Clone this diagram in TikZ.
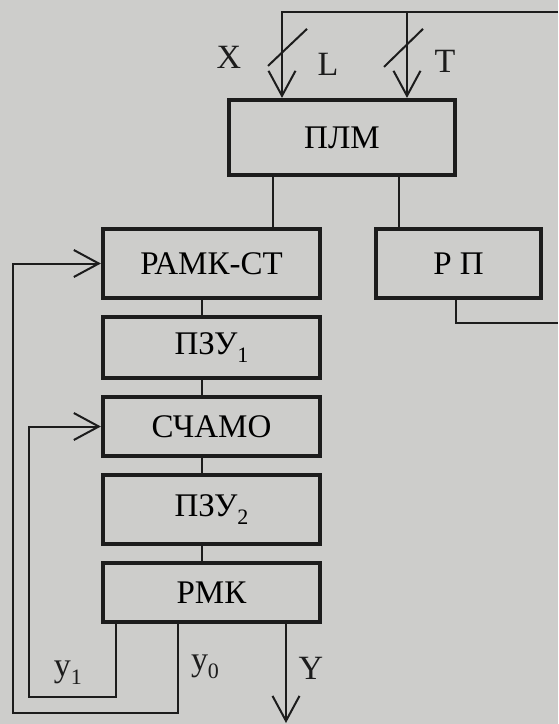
\documentclass[tikz,border=0pt]{standalone}
\usepackage{fontspec}
\setmainfont{Liberation Serif}
\usetikzlibrary{arrows.meta,positioning,calc}
\definecolor{Paper}{RGB}{205,205,203}
\definecolor{Ink}{RGB}{28,28,28}
\newcommand{\lowsub}[1]{\lower0.5ex\hbox{\fontsize{11}{12}\selectfont #1}}
\tikzset{
  blk/.style={rectangle,draw=Ink,line width=1.9pt,fill=Paper,
              font=\fontsize{16.5}{19}\selectfont,minimum width=108.7pt,inner sep=0pt},
  wire/.style={draw=Ink,line width=1pt},
  arr/.style={wire,-{Straight Barb[length=12.5pt,width=13.5pt]}},
  lbl/.style={font=\fontsize{17}{20}\selectfont,text=Ink,inner sep=0pt},
}

\begin{document}
\begin{tikzpicture}[x=0.5pt,y=-0.5pt,node distance=7.4pt]
  \fill[Paper] (0,0) rectangle (558,724);
  \useasboundingbox (0,0) rectangle (558,724);

  % blocks
  \node[blk,minimum width=113.2pt,minimum height=37.7pt] (plm) at (342,137.5) {ПЛМ};
  \node[blk,minimum height=34.7pt] (ramk) at (211.5,263.5) {РАМК-СТ};
  \node[blk,minimum width=82.7pt,minimum height=34.7pt] (rp) at (458.5,263.5) {Р П};
  \node[blk,minimum height=30.7pt,below=of ramk] (pzu1) {ПЗУ\lowsub{1}};
  \node[blk,minimum height=29.7pt,below=of pzu1] (schamo) {СЧАМО};
  \node[blk,minimum height=34.7pt,below=of schamo] (pzu2) {ПЗУ\lowsub{2}};
  \node[blk,minimum height=29.7pt,below=of pzu2] (rmk) {РМК};

  % free ends
  \coordinate (busE) at (558,12);
  \coordinate (rpE) at (558,323);
  \coordinate (loopA) at (13,713);
  \coordinate (loopB) at (29,697);
  \coordinate (yEnd) at (0,723);
  \coordinate (inL) at ($(plm.north)+(-60,0)$);
  \coordinate (inR) at ($(plm.north)+(65,0)$);
  \coordinate (outA) at ($(plm.south)+(-69,0)$);
  \coordinate (outB) at ($(plm.south)+(57,0)$);
  \coordinate (yOut) at ($(rmk.south)+(74.5,0)$);

  % inputs X
  \draw[arr] (busE) -| (inL);
  \draw[arr] (inR |- busE) -- (inR);
  \draw[wire] ($(inL)+(-14,-32)$) -- ($(inL)+(25,-69)$);
  \draw[wire] ($(inR)+(-23,-31)$) -- ($(inR)+(16,-69)$);
  \node[lbl] (xlab) at (229,57) {X};
  \node[lbl] (llab) at (328,64) {L};
  \node[lbl] (tlab) at (445,61) {T};

  % PLM outputs
  \draw[wire] (outA) -- (outA |- ramk.north);
  \draw[wire] (outB) -- (outB |- rp.north);
  \draw[wire] ($(rp.south)+(-3,0)$) |- (rpE);

  % column
  \foreach \a/\b in {ramk/pzu1,pzu1/schamo,schamo/pzu2,pzu2/rmk}
    \draw[wire] ($(\a.south)+(-9.5,0)$) -- ($(\b.north)+(-9.5,0)$);

  % feedback and output
  \draw[arr] ($(rmk.south)+(-33.5,0)$) |- (loopA) |- (ramk.west);
  \draw[arr] ($(rmk.south)+(-95.5,0)$) |- (loopB) |- (schamo.west);
  \draw[arr] (yOut) -- (yOut |- yEnd);
  \node[lbl] (y1lab) at (68,673) {y\lowsub{1}};
  \node[lbl] (y0lab) at (205,667) {y\lowsub{0}};
  \node[lbl] (ylab) at (311,668) {Y};
\end{tikzpicture}
\end{document}
